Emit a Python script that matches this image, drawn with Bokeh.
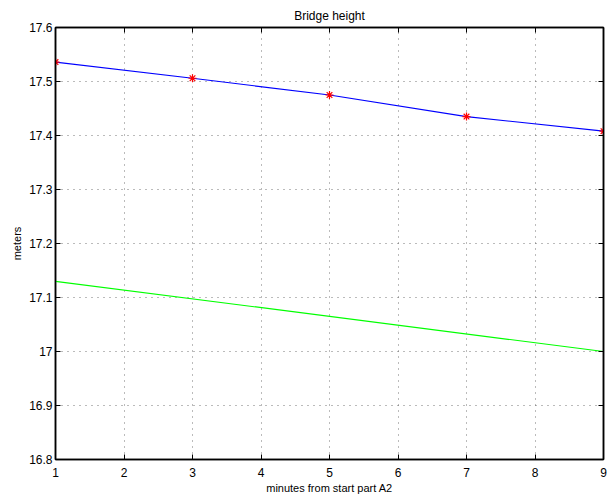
from bokeh.plotting import figure
from bokeh.models import LinearAxis, FixedTicker, Range1d
from bokeh.embed import file_html
from bokeh.resources import INLINE

minutes = [1, 3, 5, 7, 9]
height_measured = [17.536, 17.506, 17.475, 17.435, 17.408]
line_x = [1, 9]
height_ref = [17.13, 17.0]
x_ticks = [1, 2, 3, 4, 5, 6, 7, 8, 9]
y_ticks = [16.8, 16.9, 17.0, 17.1, 17.2, 17.3, 17.4, 17.5, 17.6]
y_labels = {16.8: "16.8", 16.9: "16.9", 17.0: "17", 17.1: "17.1", 17.2: "17.2",
            17.3: "17.3", 17.4: "17.4", 17.5: "17.5", 17.6: "17.6"}

FONT = "Liberation Sans"

p = figure(width=607, height=496, output_backend="svg", toolbar_location=None,
           x_range=Range1d(1, 9), y_range=Range1d(16.8, 17.6),
           title="Bridge height", x_axis_label="minutes from start part A2",
           y_axis_label="meters")
p.min_border_left = 55
p.min_border_right = 4
p.min_border_top = 27
p.min_border_bottom = 37
p.background_fill_color = "white"
p.border_fill_color = "white"
p.outline_line_color = "black"
p.outline_line_width = 1.5

p.title.align = "center"
p.title.text_font = FONT
p.title.text_font_size = "12px"
p.title.text_font_style = "normal"
p.title.text_color = "black"
p.title.standoff = 10

for ax in (p.xaxis[0], p.yaxis[0]):
    ax.major_tick_in = 5
    ax.major_tick_out = 0
    ax.minor_tick_in = 0
    ax.minor_tick_out = 0
    ax.axis_line_color = "black"
    ax.axis_line_width = 1.5
    ax.major_tick_line_color = "black"
    ax.major_label_text_font = FONT
    ax.major_label_text_font_size = "12px"
    ax.major_label_text_color = "black"
    ax.axis_label_text_font = FONT
    ax.axis_label_text_font_size = "11px"
    ax.axis_label_text_font_style = "normal"
    ax.axis_label_text_color = "black"
    ax.major_label_standoff = 3
    ax.axis_label_standoff = 3

p.xaxis[0].major_label_standoff = 8
p.xaxis[0].axis_label_standoff = 2
p.xaxis[0].ticker = FixedTicker(ticks=x_ticks)
p.yaxis[0].ticker = FixedTicker(ticks=y_ticks)
p.yaxis[0].major_label_overrides = y_labels

for loc, ticks in (("right", y_ticks), ("above", x_ticks)):
    a = LinearAxis(ticker=FixedTicker(ticks=ticks))
    a.major_tick_in = 5
    a.major_tick_out = 0
    a.minor_tick_in = 0
    a.minor_tick_out = 0
    a.major_label_text_color = None
    a.major_label_text_font_size = "1px"
    a.major_label_standoff = 0
    a.axis_line_color = "black"
    a.axis_line_width = 1.5
    a.major_tick_line_color = "black"
    p.add_layout(a, loc)

for g, ticks in ((p.xgrid[0], x_ticks), (p.ygrid[0], y_ticks)):
    g.ticker = FixedTicker(ticks=ticks)
    g.grid_line_color = "#555555"
    g.grid_line_dash = "1 5"
    g.grid_line_width = 1
    g.grid_line_alpha = 0.8

p.line(line_x, height_ref, line_color="#00ff00", line_width=1.2)
p.line(minutes, height_measured, line_color="#0000ff", line_width=1.2)
p.scatter(minutes, height_measured, marker="asterisk", size=8,
          line_color="#ff0000", line_width=1.2)

open("out.html", "w").write(file_html(p, INLINE))
